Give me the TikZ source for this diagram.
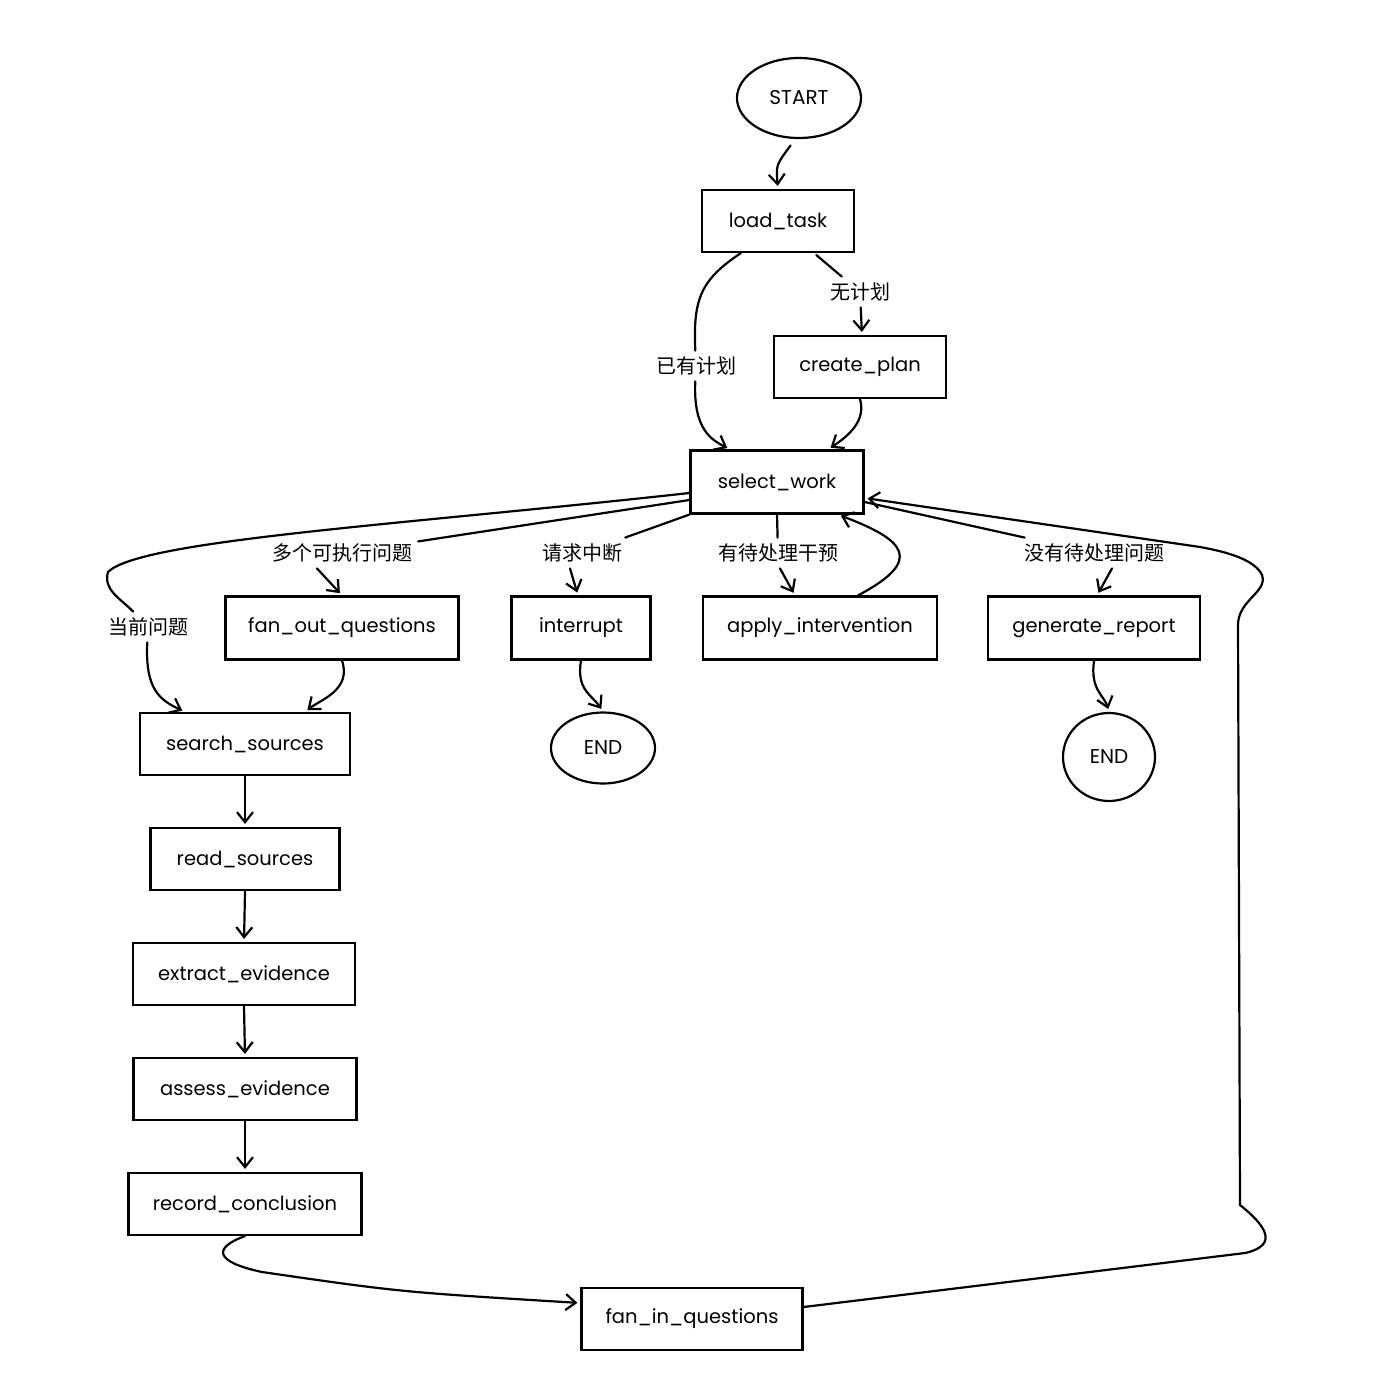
\documentclass[tikz,border=0pt]{standalone}
\usepackage{fontspec}
\setmainfont{Poppins}
\newfontfamily\cjk{Noto Sans CJK SC}
\usetikzlibrary{arrows.meta,shapes.geometric}
\tikzset{
  box/.style={draw, line width=2.2pt, rectangle, inner sep=0pt, font=\fontsize{19.5}{22}\selectfont},
  oval/.style={draw, line width=2.2pt, ellipse, inner sep=0pt, font=\fontsize{20}{22}\selectfont},
  lbl/.style={inner sep=6pt, font=\cjk\fontsize{20}{24}\selectfont},
  ln/.style={line width=2.2pt, line cap=round},
  arr/.style={ln, -{Straight Barb[length=10pt,width=16pt,line width=2.2pt]}, shorten >=3pt}
}
\begin{document}
\begin{tikzpicture}[x=1pt,y=-1pt]
\useasboundingbox[fill=white] (0,0) rectangle (1400,1400);
% nodes
\node[oval, minimum width=124pt, minimum height=80pt] (start) at (799,98) {START};
\node[box, minimum width=152pt, minimum height=62pt] (load) at (778,221) {load\_task};
\node[box, minimum width=172pt, minimum height=62pt] (plan) at (860,367) {create\_plan};
\node[box, minimum width=173pt, minimum height=63pt] (sel) at (777,482) {select\_work};
\node[box, minimum width=233pt, minimum height=63pt] (fan) at (342,628) {fan\_out\_questions};
\node[box, minimum width=139pt, minimum height=63pt] (intr) at (581,628) {interrupt};
\node[box, minimum width=234pt, minimum height=63pt] (apply) at (820,628) {apply\_intervention};
\node[box, minimum width=212pt, minimum height=63pt] (gen) at (1094,628) {generate\_report};
\node[oval, minimum width=104pt, minimum height=71pt] (end1) at (603,748) {END};
\node[oval, minimum width=92pt, minimum height=88pt] (end2) at (1109,757) {END};
\node[box, minimum width=210pt, minimum height=62pt] (search) at (245,744) {search\_sources};
\node[box, minimum width=189pt, minimum height=62pt] (read) at (245,859) {read\_sources};
\node[box, minimum width=222pt, minimum height=62pt] (extract) at (244,974) {extract\_evidence};
\node[box, minimum width=223pt, minimum height=62pt] (assess) at (245,1089) {assess\_evidence};
\node[box, minimum width=233pt, minimum height=62pt] (record) at (245,1204) {record\_conclusion};
\node[box, minimum width=221pt, minimum height=62pt] (fanin) at (692,1319) {fan\_in\_questions};
% labels
\node[lbl] (lnp) at (860,292) {无计划};
\node[lbl] (lhp) at (696,366) {已有计划};
\node[lbl] (lmq) at (342,553) {多个可执行问题};
\node[lbl] (lint) at (582,553) {请求中断};
\node[lbl] (lpi) at (778,553) {有待处理干预};
\node[lbl] (lnq) at (1094,553) {没有待处理问题};
\node[lbl] (lcur) at (148,627) {当前问题};
% edges
\draw[arr, shorten <=8pt] (start.265) .. controls (776,165) .. (load.north);
\draw[ln] ([xshift=40pt]load.south west) .. controls (700,280) and (693,300) .. (lhp);
\draw[arr] (lhp) .. controls (693,430) and (712,440) .. ([xshift=-47pt]sel.north);
\draw[ln, shorten <=3pt] ([xshift=36pt]load.south) -- (lnp);
\draw[arr] (lnp) -- ([xshift=2pt]plan.north);
\draw[arr] (plan.south) .. controls (866,420) and (850,435) .. ([xshift=51pt]sel.north);
% select_work outgoing
\draw[ln] ([yshift=-11pt]sel.west) .. controls (400,525) and (140,540) .. (108,572) .. controls (103,590) and (120,598) .. (lcur);
\draw[arr] (lcur) .. controls (145,690) and (160,700) .. ([xshift=-60pt]search.north);
\draw[ln] ([yshift=-18pt]sel.west) -- (lmq);
\draw[arr] ([xshift=-25pt]lmq.south) -- (fan.north);
\draw[ln] (sel.south west) -- (lint);
\draw[arr] ([xshift=-12pt]lint.south) .. controls (574,582) .. ([xshift=-3pt]intr.north);
\draw[ln] (sel.south) -- (lpi);
\draw[arr] ([xshift=2pt]lpi.south) -- ([xshift=-25pt]apply.north);
\draw[arr] ([xshift=38pt]apply.north) .. controls (925,560) and (905,540) .. ([xshift=61pt]sel.south);
\draw[ln] ([yshift=-20pt]sel.east) -- (lnq);
\draw[arr] ([xshift=18pt]lnq.south) -- ([xshift=3pt]gen.north);
% to END
\draw[arr] (intr.south) .. controls (576,690) and (592,695) .. (end1.north);
\draw[arr] (gen.south) .. controls (1090,690) and (1104,695) .. (end2.north);
% left chain
\draw[arr] (fan.south) .. controls (352,690) and (320,700) .. ([xshift=60pt]search.north);
\draw[arr] (search.south) -- (read.north);
\draw[arr] (read.south) -- (extract.north);
\draw[arr] (extract.south) -- (assess.north);
\draw[arr] (assess.south) -- (record.north);
\draw[arr] (record.south) .. controls (212,1248) and (215,1262) .. (262,1272) .. controls (400,1292) .. ([yshift=16pt]fanin.west);
% loop back
\draw[arr] ([yshift=12pt]fanin.east) -- (1245,1253) .. controls (1280,1245) and (1265,1225) .. (1240,1205) -- (1238,625) .. controls (1238,600) and (1268,592) .. (1262,575) .. controls (1255,560) and (1228,552) .. (1200,547) -- ([yshift=-16pt]sel.east);
\end{tikzpicture}
\end{document}
